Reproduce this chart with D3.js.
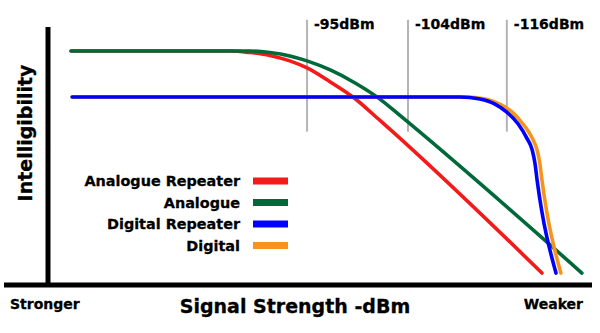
<!DOCTYPE html>
<html>
<head>
<meta charset="utf-8">
<script src="https://cdn.jsdelivr.net/npm/d3@7"></script>
<style>
  html, body { margin: 0; padding: 0; background: #fff; }
  svg { display: block; }
  text { font-family: "DejaVu Sans", sans-serif; font-weight: bold; fill: #000; stroke: #000; stroke-width: 0.3px; }
</style>
</head>
<body>
<svg id="chart" width="600" height="333"></svg>
<script>
// ---- Data (x: relative signal position 0..100, stronger -> weaker; y: intelligibility 0..100)
const seriesNames = ["Analogue Repeater", "Analogue", "Digital Repeater", "Digital"];
const seriesColors = ["#f41a1a", "#00693a", "#0000ff", "#f7941d"];

const analogueRepeater = [[3.9,90],[33.3,90],[37,89.4],[40.7,88.3],[44.4,86.2],[47.6,83.5],[51.9,78.1],[56.1,72.3],[61.1,63.3],[91.1,4.6]];
const analogue = [[3.9,90],[37,90],[40.7,89.4],[44.4,88.1],[47.6,86.2],[51.9,82.7],[56.5,77.7],[61.1,71.5],[64.8,65.2],[98.5,4.6]];
const digitalRepeater = [[4.1,72.3],[75.9,72.3],[79.6,71.5],[82.4,69.6],[84.6,66.5],[86.7,61.9],[88.3,56.5],[89.3,51.9],[89.8,46.9],[90.2,40.4],[93.7,4.6]];
const digital = [[4.1,72.3],[76.9,72.3],[80.6,71.5],[83.3,69.6],[85.6,66.5],[87.6,61.9],[89.3,56.5],[90.2,51.9],[90.7,46.9],[91.1,40.4],[94.6,4.6]];

const markerLabels = ["-95dBm", "-104dBm", "-116dBm"];
const markerX = [47.6, 66.3, 84.6];
const markerSpan = [59, 102];

const xLabels = ["Stronger", "Weaker"];
const xTitle = "Signal Strength -dBm";
const yTitle = "Intelligibility";

// ---- Drawing
const svg = d3.select("#chart");
const x = d3.scaleLinear().domain([0, 100]).range([50, 590]);
const y = d3.scaleLinear().domain([0, 100]).range([285, 25]);

// marker lines
const mg = svg.append("g");
markerX.forEach((mx, i) => {
  mg.append("line")
    .attr("x1", x(mx)).attr("x2", x(mx))
    .attr("y1", y(markerSpan[1])).attr("y2", y(markerSpan[0]))
    .attr("stroke", "#b4b4b4").attr("stroke-width", 2);
  mg.append("text")
    .attr("x", x(mx) + 7).attr("y", 29)
    .attr("font-size", 14)
    .text(markerLabels[i]);
});

// series lines (draw order: red, green, orange, blue)
const line = d3.line().x(d => x(d[0])).y(d => y(d[1])).curve(d3.curveMonotoneX);
const allSeries = [analogueRepeater, analogue, digitalRepeater, digital];
const order = [0, 1, 3, 2];
order.forEach(i => {
  svg.append("path")
    .datum(allSeries[i])
    .attr("d", line)
    .attr("fill", "none")
    .attr("stroke", seriesColors[i])
    .attr("stroke-width", 3.6)
    .attr("stroke-linecap", "round");
});

// axes
svg.append("line").attr("x1", 48).attr("x2", 48).attr("y1", 27).attr("y2", 287)
  .attr("stroke", "#000").attr("stroke-width", 5);
svg.append("line").attr("x1", 4).attr("x2", 592).attr("y1", 285).attr("y2", 285)
  .attr("stroke", "#000").attr("stroke-width", 5);

// legend
const lg = svg.append("g");
seriesNames.forEach((name, i) => {
  const cy = 181 + i * 21.5;
  lg.append("text")
    .attr("x", 240).attr("y", cy + 5)
    .attr("text-anchor", "end")
    .attr("font-size", 14.4)
    .text(name);
  lg.append("rect")
    .attr("x", 253).attr("y", cy - 3.5)
    .attr("width", 35).attr("height", 7)
    .attr("fill", seriesColors[i]);
});

// axis labels
svg.append("text").attr("x", 10).attr("y", 309).attr("font-size", 14).text(xLabels[0]);
svg.append("text").attr("x", 583).attr("y", 309).attr("font-size", 14).attr("text-anchor", "end").text(xLabels[1]);
svg.append("text").attr("x", 295).attr("y", 313).attr("font-size", 19).attr("text-anchor", "middle").text(xTitle);
svg.append("text")
  .attr("transform", "translate(32,133) rotate(-90)")
  .attr("font-size", 19).attr("text-anchor", "middle")
  .text(yTitle);
</script>
</body>
</html>
